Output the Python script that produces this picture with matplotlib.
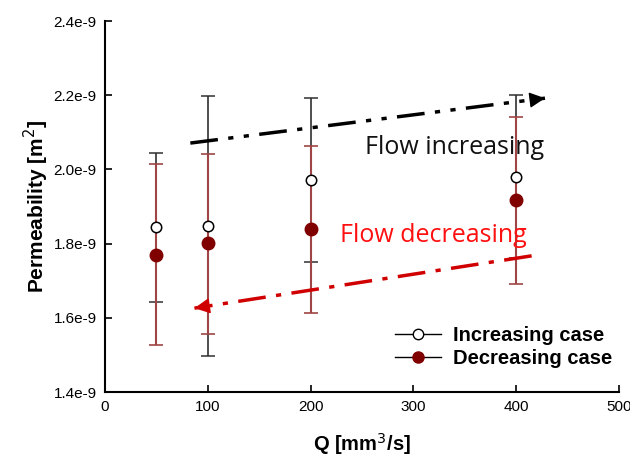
import matplotlib.pyplot as plt
from matplotlib.lines import Line2D

q = [50, 100, 200, 400]
inc_mean = [1.845e-9, 1.848e-9, 1.971e-9, 1.980e-9]
inc_low = [1.643e-9, 1.497e-9, 1.750e-9, 1.760e-9]
inc_high = [2.044e-9, 2.198e-9, 2.192e-9, 2.200e-9]
dec_mean = [1.769e-9, 1.802e-9, 1.839e-9, 1.918e-9]
dec_low = [1.527e-9, 1.556e-9, 1.613e-9, 1.691e-9]
dec_high = [2.015e-9, 2.041e-9, 2.063e-9, 2.141e-9]

# trend arrows (start, tip)
inc_arrow_x = [83, 428]
inc_arrow_y = [2.071e-9, 2.192e-9]
dec_arrow_x = [415, 87]
dec_arrow_y = [1.767e-9, 1.626e-9]

plt.rcParams['font.family'] = ['Liberation Sans', 'DejaVu Sans']

fig = plt.figure(figsize=(6.3, 4.61), dpi=100)
ax = fig.add_axes([105/630, 1-392/461, 514/630, 371/461])

inc_err = [[m - l for m, l in zip(inc_mean, inc_low)], [h - m for m, h in zip(inc_mean, inc_high)]]
dec_err = [[m - l for m, l in zip(dec_mean, dec_low)], [h - m for m, h in zip(dec_mean, dec_high)]]

ax.errorbar(q, inc_mean, yerr=inc_err, fmt='o', mfc='white', mec='black', ms=7.5, mew=1.1,
            ecolor='#303030', elinewidth=1.2, capsize=5, capthick=1.2)
ax.errorbar(q, dec_mean, yerr=dec_err, fmt='o', mfc='#800000', mec='#800000', ms=9,
            ecolor='#a04545', elinewidth=1.5, capsize=5, capthick=1.2)


def trend_arrow(xs, ys, color, dashes):
    ax.plot(xs, ys, color=color, lw=2.5, dashes=dashes)
    # short solid stub along the same direction, just for the head
    bx = xs[1] - 0.04 * (xs[1] - xs[0])
    by = ys[1] - 0.04 * (ys[1] - ys[0])
    ax.annotate('', xy=(xs[1], ys[1]), xytext=(bx, by),
                arrowprops=dict(arrowstyle='-|>', color=color, lw=1, mutation_scale=24,
                                shrinkA=0, shrinkB=0))


trend_arrow(inc_arrow_x, inc_arrow_y, 'black', (8, 3, 1.5, 3, 1.5, 3))
trend_arrow(dec_arrow_x, dec_arrow_y, '#d00000', (8, 3, 1.5, 3))

ax.text(253, 2.058e-9, 'Flow increasing', fontsize=18, color='#111111', va='center',
        family=['Open Sans', 'DejaVu Sans'])
ax.text(229, 1.8205e-9, 'Flow decreasing', fontsize=18, color='#ff1010', va='center',
        family=['Open Sans', 'DejaVu Sans'])

ax.set_xlim(0, 500)
ax.set_ylim(1.4e-9, 2.4e-9)
ax.set_xticks([0, 100, 200, 300, 400, 500])
ax.set_yticks([1.4e-9, 1.6e-9, 1.8e-9, 2.0e-9, 2.2e-9, 2.4e-9])
ax.set_yticklabels(['1.4e-9', '1.6e-9', '1.8e-9', '2.0e-9', '2.2e-9', '2.4e-9'])
ax.tick_params(direction='in', length=5, width=1.2, labelsize=11, pad=6)
for s in ['top', 'right']:
    ax.spines[s].set_visible(False)
for s in ['left', 'bottom']:
    ax.spines[s].set_linewidth(1.5)

ax.set_xlabel('Q [mm$^3$/s]', fontsize=14.5, fontweight='bold', labelpad=12)
ax.set_ylabel('Permeability [m$^2$]', fontsize=15, fontweight='bold', labelpad=2)

handles = [Line2D([], [], color='black', lw=1, marker='o', mfc='white', mec='black', ms=7.5),
           Line2D([], [], color='black', lw=1, marker='o', mfc='#800000', mec='#800000', ms=8)]
ax.legend(handles, ['Increasing case', 'Decreasing case'], loc='lower right', bbox_to_anchor=(1.023, 0.015),
          frameon=False, prop={'weight': 'bold', 'size': 14.5}, handlelength=2.3, labelspacing=0.22,
          handletextpad=0.6)

fig.savefig('out.png', dpi=100)
